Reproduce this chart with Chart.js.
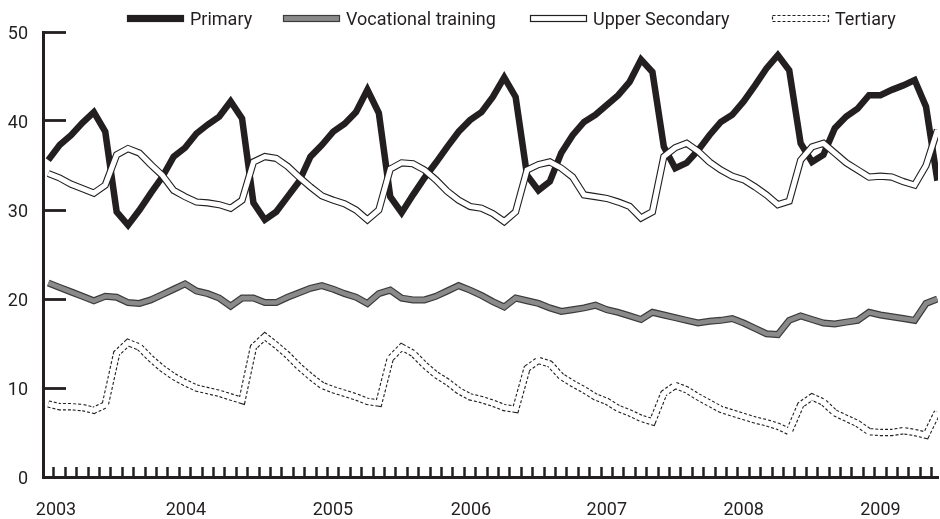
<!DOCTYPE html>
<html lang="en">
<head>
    <meta charset="UTF-8">
    <title>Enrolment by level of education</title>
    <script src="https://cdn.jsdelivr.net/npm/chart.js@4"></script>
    <style>
        html, body { margin: 0; padding: 0; background: #fff; }
        .chart-box { position: relative; width: 940px; height: 519px; }
    </style>
</head>
<body>
    <div class="chart-box"><canvas id="myChart"></canvas></div>
    <script>
        // monthly values, Jan 2003 .. Jul 2009 (79 months)
        const primary = [
            35.6, 37.3, 38.4, 39.8, 41.0, 38.8, 29.8, 28.3, 30.0, 31.9, 33.7, 36.0,
            37.0, 38.6, 39.6, 40.5, 42.2, 40.3, 30.8, 28.9, 29.8, 31.5, 33.2, 36.0,
            37.3, 38.8, 39.7, 41.0, 43.5, 40.9, 31.5, 29.7, 31.7, 33.6, 35.3, 37.1,
            38.8, 40.1, 41.0, 42.7, 44.9, 42.7, 33.9, 32.2, 33.2, 36.4, 38.4, 39.9,
            40.7, 41.8, 42.9, 44.4, 46.9, 45.5, 37.1, 34.7, 35.3, 36.7, 38.4, 39.9,
            40.7, 42.2, 44.0, 45.9, 47.4, 45.7, 37.5, 35.4, 36.2, 39.2, 40.5, 41.4,
            42.9, 42.9, 43.5, 44.0, 44.6, 41.6, 33.3
        ];
        const vocational = [
            21.8, 21.3, 20.8, 20.3, 19.8, 20.3, 20.2, 19.6, 19.5, 19.9, 20.5, 21.1,
            21.7, 20.9, 20.6, 20.1, 19.2, 20.1, 20.1, 19.6, 19.6, 20.2, 20.7, 21.2,
            21.5, 21.1, 20.6, 20.2, 19.5, 20.6, 21.0, 20.1, 19.9, 19.9, 20.3, 20.9,
            21.5, 21.0, 20.4, 19.7, 19.1, 20.1, 19.8, 19.5, 19.0, 18.6, 18.8, 19.0,
            19.3, 18.8, 18.5, 18.1, 17.7, 18.5, 18.2, 17.9, 17.6, 17.3, 17.5, 17.6,
            17.8, 17.3, 16.7, 16.1, 16.0, 17.6, 18.1, 17.7, 17.3, 17.2, 17.4, 17.6,
            18.5, 18.2, 18.0, 17.8, 17.6, 19.5, 20.0
        ];
        const upperSecondary = [
            34.1, 33.6, 32.9, 32.4, 31.9, 32.8, 36.2, 36.9, 36.4, 35.1, 33.9, 32.2,
            31.5, 30.9, 30.8, 30.6, 30.2, 31.1, 35.4, 36.0, 35.8, 34.9, 33.7, 32.6,
            31.6, 31.1, 30.7, 30.0, 28.9, 30.0, 34.6, 35.3, 35.2, 34.5, 33.4, 32.1,
            31.1, 30.4, 30.2, 29.6, 28.7, 29.8, 34.5, 35.1, 35.4, 34.7, 33.7, 31.7,
            31.5, 31.3, 30.9, 30.4, 29.1, 29.8, 36.0, 37.0, 37.5, 36.6, 35.4, 34.5,
            33.8, 33.4, 32.6, 31.7, 30.6, 31.0, 35.6, 37.1, 37.5, 36.4, 35.3, 34.5,
            33.7, 33.8, 33.7, 33.2, 32.8, 35.0, 39.0
        ];
        const tertiary = [
            8.2, 7.9, 7.9, 7.8, 7.5, 8.1, 13.9, 15.1, 14.6, 13.3, 12.2, 11.3,
            10.6, 10.0, 9.7, 9.4, 9.0, 8.6, 14.6, 15.8, 14.8, 13.7, 12.4, 11.3,
            10.3, 9.8, 9.4, 9.0, 8.5, 8.3, 13.3, 14.6, 13.9, 12.6, 11.5, 10.7,
            9.7, 9.0, 8.7, 8.3, 7.8, 7.6, 12.2, 13.1, 12.7, 11.3, 10.5, 9.8,
            9.0, 8.5, 7.7, 7.2, 6.6, 6.2, 9.4, 10.3, 9.8, 9.0, 8.3, 7.6,
            7.2, 6.8, 6.4, 6.1, 5.7, 5.1, 8.1, 9.0, 8.4, 7.2, 6.6, 6.0,
            5.1, 5.0, 5.0, 5.2, 5.0, 4.7, 7.3
        ];
        const yearLabels = ['2003', '2004', '2005', '2006', '2007', '2008', '2009'];
        // month index under which each year label sits
        const yearLabelAt = [0.68, 12.08, 24.97, 37.08, 49.0, 61.0, 73.0];
        const yTicks = [0, 10, 20, 30, 40, 50];

        const INK = '#231f20';
        const FONT = "Roboto, 'Liberation Sans', sans-serif";

        const toPoints = arr => arr.map((v, i) => ({ x: i, y: v }));
        const monthEdges = primary.slice(1).map((v, i) => i + 0.5);

        function line(label, values, color, width, order, dash) {
            return {
                label: label,
                data: toPoints(values),
                borderColor: color,
                borderWidth: width,
                borderDash: dash || [],
                borderJoinStyle: 'miter',
                borderCapStyle: 'butt',
                pointRadius: 0,
                tension: 0,
                fill: false,
                order: order
            };
        }

        const datasets = [
            line('Upper Secondary', upperSecondary, '#ffffff', 5, 1),
            line('Upper Secondary edge', upperSecondary, INK, 7.2, 2),
            line('Primary', primary, INK, 6.5, 3),
            line('Vocational training', vocational, '#8a8a8a', 4.6, 4),
            line('Vocational training edge', vocational, '#3c3c3c', 7, 5),
            line('Tertiary', tertiary, '#ffffff', 5.2, 6),
            line('Tertiary edge', tertiary, INK, 7.4, 7, [3, 2])
        ];

        const legendItems = [
            { text: 'Primary', fill: INK, stroke: INK, dash: [] },
            { text: 'Vocational training', fill: '#8a8a8a', stroke: '#3c3c3c', dash: [] },
            { text: 'Upper Secondary', fill: '#ffffff', stroke: INK, dash: [] },
            { text: 'Tertiary', fill: '#ffffff', stroke: INK, dash: [3, 2] }
        ];

        const sampleLegend = {
            id: 'sampleLegend',
            afterDraw(chart) {
                const ctx = chart.ctx;
                const starts = [127, 283, 530, 772];
                ctx.save();
                ctx.font = '18px ' + FONT;
                ctx.textBaseline = 'middle';
                legendItems.forEach((item, i) => {
                    const x = starts[i];
                    ctx.fillStyle = item.fill;
                    ctx.fillRect(x + 0.5, 15.5, 56, 6);
                    ctx.setLineDash(item.dash);
                    ctx.lineWidth = 1.2;
                    ctx.strokeStyle = item.stroke;
                    ctx.strokeRect(x + 0.5, 15.5, 56, 6);
                    ctx.setLineDash([]);
                    ctx.fillStyle = INK;
                    ctx.fillText(item.text, x + 63, 20);
                });
                ctx.restore();
            }
        };

        const ctx = document.getElementById('myChart').getContext('2d');
        const myChart = new Chart(ctx, {
            type: 'line',
            data: { datasets: datasets },
            options: {
                responsive: true,
                maintainAspectRatio: false,
                animation: false,
                layout: { padding: { top: 32, right: 2, left: 0, bottom: 0 } },
                scales: {
                    x: {
                        type: 'linear',
                        position: 'bottom',
                        weight: 0,
                        min: -0.46,
                        max: 78.05,
                        afterBuildTicks: scale => {
                            scale.ticks = monthEdges.map(v => ({ value: v }));
                        },
                        afterFit: scale => { scale.height = 0; },
                        ticks: { display: false, autoSkip: false },
                        grid: {
                            drawOnChartArea: false,
                            drawTicks: true,
                            tickLength: -10,
                            tickWidth: 2.5,
                            tickColor: INK,
                            color: INK
                        },
                        border: { display: true, color: INK, width: 3 }
                    },
                    xYears: {
                        type: 'linear',
                        position: 'bottom',
                        weight: 1,
                        min: -0.46,
                        max: 78.05,
                        afterBuildTicks: scale => {
                            scale.ticks = yearLabelAt.map(v => ({ value: v }));
                        },
                        afterFit: scale => {
                            scale.height = 42;
                            scale.paddingLeft = 0;
                            scale.paddingRight = 0;
                        },
                        ticks: {
                            autoSkip: false,
                            maxRotation: 0,
                            padding: 23,
                            color: INK,
                            font: { family: FONT, size: 18 },
                            callback: (value, index) => yearLabels[index]
                        },
                        grid: { display: false, drawTicks: false },
                        border: { display: false }
                    },
                    y: {
                        min: 0,
                        max: 50,
                        afterBuildTicks: scale => {
                            scale.ticks = yTicks.map(v => ({ value: v }));
                        },
                        afterFit: scale => {
                            scale.width = 43;
                            scale.paddingTop = 0;
                            scale.paddingBottom = 0;
                        },
                        ticks: {
                            padding: 38,
                            labelOffset: 2,
                            color: INK,
                            font: { family: FONT, size: 18 }
                        },
                        grid: {
                            drawOnChartArea: false,
                            drawTicks: true,
                            tickLength: -23,
                            tickWidth: 2.8,
                            tickColor: INK,
                            color: INK
                        },
                        border: { display: true, color: INK, width: 3 }
                    }
                },
                plugins: {
                    legend: { display: false },
                    tooltip: { enabled: false }
                }
            },
            plugins: [sampleLegend]
        });
    </script>
</body>
</html>
